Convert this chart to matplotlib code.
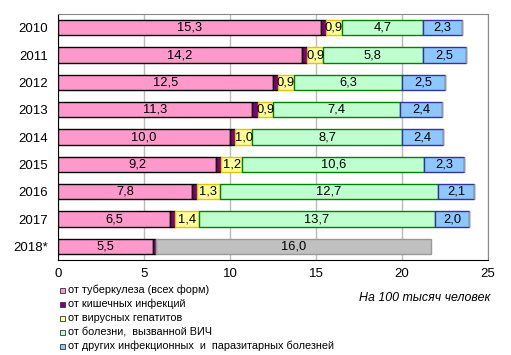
import matplotlib.pyplot as plt
import numpy as np

plt.rcParams['font.family'] = ['Liberation Sans', 'DejaVu Sans']

years = ["2010", "2011", "2012", "2013", "2014", "2015", "2016", "2017", "2018*"]
tuberculosis = [15.3, 14.2, 12.5, 11.3, 10.0, 9.2, 7.8, 6.5, 5.5]
intestinal = [0.3, 0.3, 0.3, 0.3, 0.3, 0.3, 0.3, 0.3, 0.2]
hepatitis = [0.9, 0.9, 0.9, 0.9, 1.0, 1.2, 1.3, 1.4, 0]
hiv = [4.7, 5.8, 6.3, 7.4, 8.7, 10.6, 12.7, 13.7, 0]
other = [2.3, 2.5, 2.5, 2.4, 2.4, 2.3, 2.1, 2.0, 0]
combined_2018 = [0, 0, 0, 0, 0, 0, 0, 0, 16.0]

series = [
    ("от туберкулеза (всех форм)", tuberculosis, "#FF99CC", "#000000", True),
    ("от кишечных инфекций", intestinal, "#800080", "#000000", False),
    ("от вирусных гепатитов", hepatitis, "#FFFF99", "#E6C300", True),
    ("от болезни,  вызванной ВИЧ", hiv, "#BFFFCF", "#008000", True),
    ("от других инфекционных  и  паразитарных болезней", other, "#8CC8FF", "#333399", True),
]

fig = plt.figure(figsize=(5.11, 3.55), dpi=100)
ax = fig.add_axes([58 / 511, 95 / 355, 430 / 511, 246 / 355])

y = np.arange(len(years))
left = np.zeros(len(years))
for name, vals, fc, ec, show in series:
    vals = np.array(vals)
    ax.barh(y, vals, left=left, height=0.57, color=fc, edgecolor=ec,
            linewidth=1.0, zorder=3)
    if show:
        for yi, l, v in zip(y, left, vals):
            if v > 0:
                ax.text(l + v / 2, yi, f"{v:.1f}".replace(".", ","),
                        ha="center", va="center", fontsize=9.3, zorder=4)
    left = left + vals

# 2018: remaining causes combined
vals = np.array(combined_2018)
ax.barh(y, vals, left=left, height=0.57, color="#C0C0C0", edgecolor="#999999",
        linewidth=1.0, zorder=3)
for yi, l, v in zip(y, left, vals):
    if v > 0:
        ax.text(l + v / 2, yi, f"{v:.1f}".replace(".", ","),
                ha="center", va="center", fontsize=9.3, zorder=4)

ax.set_xlim(0, 25)
ax.set_ylim(len(years) - 0.5, -0.5)
ax.set_xticks([0, 5, 10, 15, 20, 25])
ax.set_yticks(y)
ax.set_yticklabels(years, fontsize=9.5)
ax.tick_params(axis="x", labelsize=9.5, length=0, pad=6)
ax.tick_params(axis="y", length=0, pad=7)
ax.xaxis.grid(True, color="#BBBBBB", linewidth=1.0, zorder=0)
for s in ax.spines.values():
    s.set_color("#888888")
ax.spines["left"].set_color("#000000")
ax.spines["bottom"].set_color("#000000")

# legend
leg_y = [290, 304, 318, 332, 346]
for (name, vals, fc, ec, show), ly in zip(series, leg_y):
    yy = 1 - ly / 355
    fig.patches.append(plt.Rectangle((60 / 511, yy - 2.5 / 355), 5 / 511, 5 / 355,
                                     transform=fig.transFigure, facecolor=fc,
                                     edgecolor="#333333", linewidth=0.6))
    fig.text(68 / 511, yy, name, fontsize=7.8, va="center", ha="left")

fig.text(490 / 511, 1 - 298 / 355, "На 100 тысяч человек", fontsize=8.9,
         style="italic", ha="right", va="center")

fig.savefig("out.png", dpi=100)
